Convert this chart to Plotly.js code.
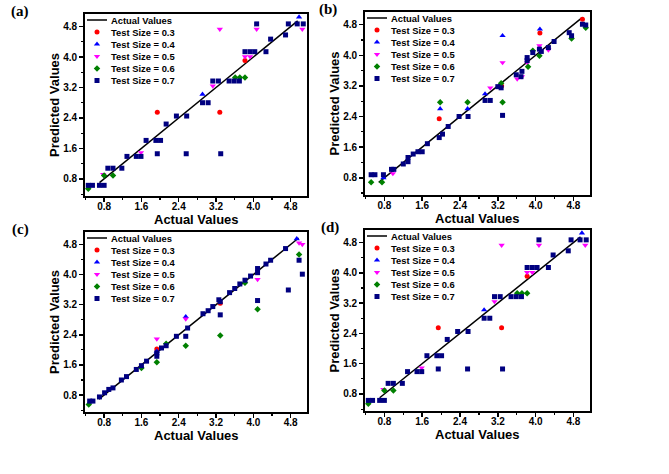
<!DOCTYPE html>
<html>
<head>
<meta charset="utf-8">
<script src="https://cdn.plot.ly/plotly-3.0.1.min.js"></script>
<style>
html,body{margin:0;padding:0;background:#fff;}
#chart{width:669px;height:474px;}
</style>
</head>
<body>
<div id="chart"></div>
<script>
// ---------- tick labels / names ----------
const tickVals = [0.8, 1.6, 2.4, 3.2, 4.0, 4.8];
const tickText = ['0.8', '1.6', '2.4', '3.2', '4.0', '4.8'];
const minorVals = [0.4, 1.2, 2.0, 2.8, 3.6, 4.4];
const lineName = 'Actual Values';
const seriesNames = ['Test Size = 0.3', 'Test Size = 0.4', 'Test Size = 0.5', 'Test Size = 0.6', 'Test Size = 0.7'];
const panelLabels = ['(a)', '(b)', '(c)', '(d)'];
const xTitle = 'Actual Values';
const yTitle = 'Predicted Values';

// ---------- panel (a) ----------
const aLine = [0.70, 4.95];
const aX03 = [1.94, 3.28, 3.82];
const aY03 = [2.55, 2.55, 3.91];
const aX04 = [4.98, 2.91];
const aY04 = [5.05, 3.02];
const aX05 = [5.05, 4.07, 3.28, 3.82, 3.93, 3.13, 1.59, 0.78];
const aY05 = [4.73, 4.73, 4.73, 4.01, 4.01, 3.24, 1.49, 0.92];
const aX06 = [3.61, 3.71, 3.82, 0.80, 0.99, 0.46];
const aY06 = [3.46, 3.46, 3.46, 0.89, 0.89, 0.54];
const aX07 = [4.94, 5.07, 4.75, 4.07, 4.37, 4.69, 4.27, 3.82, 3.93, 4.03, 3.48, 3.59, 3.70, 3.13, 3.25, 2.91, 3.03, 3.30, 2.35, 2.57, 2.13, 1.70, 1.91, 2.01, 1.49, 1.59, 1.29, 1.94, 2.56, 1.18, 0.88, 0.99, 0.70, 0.80, 0.46, 0.55];
const aY07 = [4.87, 4.87, 4.87, 4.87, 4.47, 4.58, 4.14, 4.14, 4.14, 4.14, 3.37, 3.37, 3.37, 3.37, 3.37, 2.80, 2.80, 1.46, 2.45, 2.45, 2.24, 1.81, 1.81, 1.81, 1.39, 1.39, 1.39, 1.46, 1.46, 1.08, 1.08, 1.08, 0.63, 0.63, 0.63, 0.63];

// ---------- panel (b) ----------
const bLine = [0.68, 4.97];
const bX03 = [4.09, 4.99, 1.96, 3.28];
const bY03 = [4.58, 4.94, 2.34, 3.20];
const bX04 = [4.09, 3.30, 1.98, 2.56, 2.93, 0.78];
const bY04 = [4.68, 4.51, 2.60, 2.60, 2.99, 0.80];
const bX05 = [3.30, 3.04, 3.61, 4.08, 4.27, 3.82, 3.71, 0.98];
const bY05 = [3.81, 3.15, 3.38, 4.25, 4.14, 3.81, 3.44, 0.91];
const bX06 = [3.27, 2.56, 3.30, 1.98, 3.84, 4.08, 3.94, 4.76, 5.06, 0.52, 0.75];
const bY06 = [3.27, 2.77, 2.77, 2.77, 3.70, 3.99, 4.12, 4.44, 4.72, 0.68, 0.68];
const bX07 = [4.99, 5.06, 4.71, 4.76, 4.39, 4.27, 4.08, 4.12, 3.94, 3.82, 3.82, 3.71, 3.59, 3.69, 3.20, 3.27, 2.93, 3.04, 3.30, 2.38, 2.57, 2.15, 2.03, 1.96, 1.71, 1.60, 1.51, 1.41, 1.30, 1.30, 1.20, 1.00, 0.95, 0.52, 0.60, 0.78];
const bY07 = [4.81, 4.79, 4.59, 4.51, 4.36, 4.20, 4.16, 4.10, 4.07, 3.94, 3.86, 3.58, 3.49, 3.44, 3.18, 3.15, 2.82, 2.82, 2.43, 2.40, 2.40, 2.14, 1.94, 1.85, 1.69, 1.48, 1.48, 1.42, 1.33, 1.22, 1.16, 1.02, 1.02, 0.88, 0.88, 0.88];

// ---------- panel (c) ----------
const cLine = [0.69, 4.97];
const cX03 = [3.29, 1.93];
const cY03 = [3.24, 2.02];
const cX04 = [2.55, 1.93, 4.93];
const cY04 = [2.88, 1.96, 4.95];
const cX05 = [2.55, 1.93, 4.98, 5.05, 4.09];
const cY05 = [2.82, 2.29, 4.84, 4.80, 3.87];
const cX06 = [2.13, 2.55, 4.98, 3.82, 3.29, 4.09, 1.93, 1.60, 0.47];
const cY06 = [2.16, 2.11, 4.53, 3.78, 2.38, 3.08, 1.67, 1.52, 0.55];
const cX07 = [2.59, 2.35, 2.55, 2.13, 2.03, 1.93, 1.93, 4.98, 5.05, 4.69, 4.37, 4.27, 4.09, 4.09, 3.94, 3.82, 3.71, 3.60, 3.49, 3.29, 3.26, 3.13, 3.03, 2.92, 3.29, 4.09, 4.75, 1.71, 1.60, 1.49, 1.28, 1.17, 0.99, 0.90, 0.81, 0.70, 0.49, 0.56];
const cY07 = [2.58, 2.36, 2.36, 2.11, 2.05, 1.92, 1.83, 4.38, 4.01, 4.69, 4.38, 4.28, 4.16, 4.05, 3.96, 3.85, 3.75, 3.63, 3.52, 3.28, 3.33, 3.15, 3.04, 2.96, 2.93, 3.31, 3.59, 1.70, 1.58, 1.48, 1.29, 1.20, 0.99, 0.95, 0.86, 0.75, 0.64, 0.64];

// ---------- panel (d) (same results as panel a) ----------
const dLine = aLine;
const dX03 = aX03, dY03 = aY03;
const dX04 = aX04, dY04 = aY04;
const dX05 = aX05, dY05 = aY05;
const dX06 = aX06, dY06 = aY06;
const dX07 = aX07, dY07 = aY07;

// ---------- styles ----------
const seriesColors = ['#ff0000', '#0000ff', '#ff00ff', '#008000', '#000080'];
const seriesSymbols = ['circle', 'triangle-up', 'triangle-down', 'diamond', 'square'];
const seriesSizes = [5, 5.5, 5.5, 5, 5];

const W = 669, H = 474;
const panels = [
  {l: 85, r: 307, t: 14, b: 196, lx: 20},
  {l: 365, r: 590, t: 12, b: 195, lx: 328},
  {l: 85, r: 307, t: 232, b: 412, lx: 20},
  {l: 365, r: 590, t: 230, b: 411, lx: 330}
];
const panelData = [
  {line: aLine, xs: [aX03, aX04, aX05, aX06, aX07], ys: [aY03, aY04, aY05, aY06, aY07]},
  {line: bLine, xs: [bX03, bX04, bX05, bX06, bX07], ys: [bY03, bY04, bY05, bY06, bY07]},
  {line: cLine, xs: [cX03, cX04, cX05, cX06, cX07], ys: [cY03, cY04, cY05, cY06, cY07]},
  {line: dLine, xs: [dX03, dX04, dX05, dX06, dX07], ys: [dY03, dY04, dY05, dY06, dY07]}
];

const sans = 'Liberation Sans, Arial, Helvetica, sans-serif';
const serif = 'Liberation Serif, Times New Roman, serif';
const tickFont = {family: sans, size: 10, color: '#000', weight: 'bold'};
const legendFont = {family: sans, size: 9.4, color: '#000', weight: 'bold'};
const titleFont = {family: sans, size: 13, color: '#000', weight: 'bold'};

const traces = [];
const layout = {
  width: W, height: H,
  margin: {l: 0, r: 0, t: 0, b: 0},
  paper_bgcolor: '#fff',
  plot_bgcolor: 'rgba(0,0,0,0)',
  showlegend: false,
  shapes: [],
  annotations: []
};

function axisCommon() {
  return {
    range: null,
    autorange: false,
    showline: true, mirror: true, linecolor: '#000', linewidth: 1.8,
    ticks: 'outside', ticklen: 4, tickwidth: 1.5, tickcolor: '#000',
    tickmode: 'array', tickvals: tickVals, ticktext: tickText,
    tickfont: tickFont,
    minor: {tickmode: 'array', tickvals: minorVals, ticks: 'outside', ticklen: 2.5, tickwidth: 1.2, tickcolor: '#000', showgrid: false},
    showgrid: false, zeroline: false, fixedrange: true
  };
}

panels.forEach((P, i) => {
  const n = i === 0 ? '' : String(i + 1);
  const xa = 'x' + n, ya = 'y' + n;
  const xax = axisCommon();
  xax.range = [0.39, 5.15];
  xax.domain = [P.l / W, P.r / W];
  xax.anchor = ya;
  xax.ticklabelstandoff = -4;
  const yax = axisCommon();
  yax.range = [0.35, 5.13];
  yax.domain = [1 - P.b / H, 1 - P.t / H];
  yax.anchor = xa;
  yax.ticklabelstandoff = 0;
  layout['xaxis' + n] = xax;
  layout['yaxis' + n] = yax;

  const D = panelData[i];
  traces.push({type: 'scatter', mode: 'lines', x: D.line, y: D.line, xaxis: xa, yaxis: ya,
    line: {color: '#000', width: 1.5}, hoverinfo: 'skip'});
  D.xs.forEach((xs, k) => {
    traces.push({type: 'scatter', mode: 'markers', x: xs, y: D.ys[k], xaxis: xa, yaxis: ya,
      name: seriesNames[k], cliponaxis: false,
      marker: {symbol: seriesSymbols[k], color: seriesColors[k], size: seriesSizes[k], line: {width: 0}}});
  });
});

// overlay pixel axes for legends / titles
layout.xaxis5 = {domain: [0, 1], range: [0, W], autorange: false, visible: false, anchor: 'y5', fixedrange: true};
layout.yaxis5 = {domain: [0, 1], range: [H, 0], autorange: false, visible: false, anchor: 'x5', fixedrange: true};

const legX = seriesNames.map(() => []);
const legY = seriesNames.map(() => []);
panels.forEach((P, i) => {
  const rows = [0, 1, 2, 3, 4, 5].map(r => P.t + 6 + 12.1 * r);
  layout.shapes.push({type: 'line', xref: 'x5', yref: 'y5', x0: P.l + 2, x1: P.l + 22, y0: rows[0], y1: rows[0],
    line: {color: '#000', width: 1.5}});
  layout.annotations.push({xref: 'x5', yref: 'y5', x: P.l + 24, y: rows[0], text: lineName, showarrow: false,
    xanchor: 'left', yanchor: 'middle', font: legendFont});
  seriesNames.forEach((nm, k) => {
    legX[k].push(P.l + 12);
    legY[k].push(rows[k + 1]);
    layout.annotations.push({xref: 'x5', yref: 'y5', x: P.l + 24, y: rows[k + 1], text: nm, showarrow: false,
      xanchor: 'left', yanchor: 'middle', font: legendFont});
  });
  layout.annotations.push({xref: 'x5', yref: 'y5', x: P.lx, y: P.t - 3, text: panelLabels[i], showarrow: false,
    xanchor: 'center', yanchor: 'middle', font: {family: serif, size: 15, color: '#000', weight: 'bold'}});
  layout.annotations.push({xref: 'x5', yref: 'y5', x: (P.l + P.r) / 2, y: P.b + 23, text: xTitle, showarrow: false,
    xanchor: 'center', yanchor: 'middle', font: titleFont});
  layout.annotations.push({xref: 'x5', yref: 'y5', x: P.l - 31, y: (P.t + P.b) / 2, text: yTitle, showarrow: false,
    textangle: -90, xanchor: 'center', yanchor: 'middle', font: titleFont});
});
seriesNames.forEach((nm, k) => {
  traces.push({type: 'scatter', mode: 'markers', x: legX[k], y: legY[k], xaxis: 'x5', yaxis: 'y5',
    cliponaxis: false, hoverinfo: 'skip',
    marker: {symbol: seriesSymbols[k], color: seriesColors[k], size: seriesSizes[k], line: {width: 0}}});
});

Plotly.newPlot('chart', traces, layout, {staticPlot: true, displayModeBar: false});
</script>
</body>
</html>
